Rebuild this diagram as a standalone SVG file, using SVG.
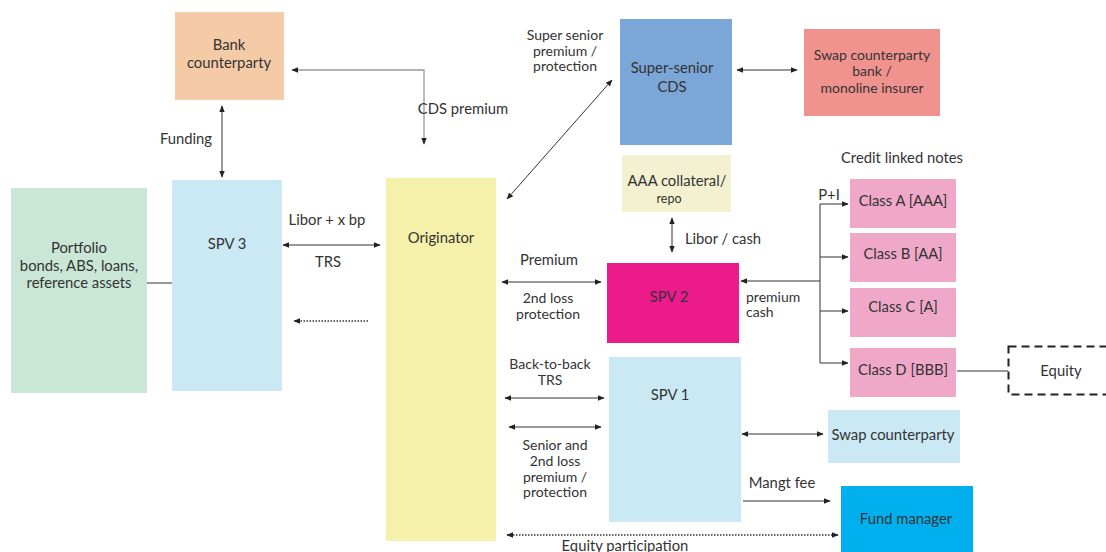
<svg xmlns="http://www.w3.org/2000/svg" width="1106" height="552" viewBox="0 0 1106 552">
<defs>
<marker id="ah" viewBox="0 0 10 10" refX="9" refY="5" markerWidth="7" markerHeight="7" orient="auto-start-reverse" markerUnits="userSpaceOnUse"><path d="M0,1 L10,5 L0,9 Z" fill="#222"/></marker>
<style>
text{font-family:Lato,"Open Sans","Liberation Sans",sans-serif;font-size:14.8px;fill:#333;text-anchor:middle}
text.s{font-size:14px}
.c{stroke:#333;stroke-width:1;fill:none}
.g{stroke:#999;stroke-width:1.3;fill:none}
.d{stroke:#333;stroke-width:1.5;fill:none;stroke-dasharray:1.5 1.5}
.l{text-anchor:start}
</style>
</defs>
<rect width="1106" height="552" fill="#fff"/>
<g id="bank"><rect x="175" y="12" width="109" height="88" fill="#f5cba7"/><text x="229" y="50">Bank</text><text x="229" y="68">counterparty</text></g>
<g id="spv3"><rect x="172" y="180" width="110" height="211" fill="#cae9f4"/><text x="227" y="249">SPV 3</text></g>
<g id="portfolio"><rect x="11" y="188" width="136" height="205" fill="#c9e6d6"/><text x="79" y="253">Portfolio</text><text x="79" y="271">bonds, ABS, loans,</text><text x="79" y="288">reference assets</text></g>
<g id="originator"><rect x="386" y="178" width="110" height="363" fill="#f5f0aa"/><text x="441" y="243">Originator</text></g>
<g id="supercds"><rect x="620" y="19" width="112" height="126" fill="#7ba6d8"/><text x="672" y="73">Super-senior</text><text x="672" y="92">CDS</text></g>
<g id="swapbank"><rect x="804" y="29" width="136" height="87" fill="#f0938f"/><text class="s" x="872" y="60">Swap counterparty</text><text class="s" x="872" y="76">bank /</text><text class="s" x="872" y="93">monoline insurer</text></g>
<g id="aaa"><rect x="622" y="155" width="109" height="57" fill="#f3f1d0"/><text x="677" y="186">AAA collateral/</text><text x="669" y="203" style="font-size:12.5px">repo</text></g>
<g id="spv2"><rect x="607" y="263" width="132" height="80" fill="#ec1b8c"/><text x="669" y="302">SPV 2</text></g>
<g id="classA"><rect x="850" y="179" width="106" height="49" fill="#f0a8c8"/><text x="903" y="206">Class A [AAA]</text></g>
<g id="classB"><rect x="850" y="233" width="106" height="49" fill="#f0a8c8"/><text x="903" y="259">Class B [AA]</text></g>
<g id="classC"><rect x="850" y="288" width="106" height="49" fill="#f0a8c8"/><text x="903" y="312">Class C [A]</text></g>
<g id="classD"><rect x="850" y="348" width="106" height="49" fill="#f0a8c8"/><text x="903" y="375">Class D [BBB]</text></g>
<g id="equity"><rect x="1008.5" y="346.5" width="105" height="48" fill="none" stroke="#222" stroke-width="2" stroke-dasharray="8 5"/><text x="1061" y="376">Equity</text></g>
<g id="spv1"><rect x="609" y="357" width="132" height="165" fill="#cae9f4"/><text x="670" y="400">SPV 1</text></g>
<g id="swapcp"><rect x="828" y="410" width="132" height="53" fill="#cae9f4"/><text x="893" y="440">Swap counterparty</text></g>
<g id="fundmgr"><rect x="841" y="486" width="132" height="70" fill="#00b0ee"/><text x="906" y="524">Fund manager</text></g>
<g id="connectors">
<polyline class="g" points="424,144 424,70 292,70" marker-start="url(#ah)" marker-end="url(#ah)"/>
<line class="c" x1="222" y1="106" x2="222" y2="177" marker-start="url(#ah)" marker-end="url(#ah)"/>
<line class="c" x1="147" y1="283" x2="172" y2="283"/>
<line class="c" x1="283" y1="245" x2="380" y2="245" marker-start="url(#ah)" marker-end="url(#ah)"/>
<line class="d" x1="368" y1="321" x2="294" y2="321" marker-end="url(#ah)"/>
<line class="c" x1="507" y1="199" x2="612" y2="80" marker-start="url(#ah)" marker-end="url(#ah)"/>
<line class="c" x1="737" y1="70" x2="797" y2="70" marker-start="url(#ah)" marker-end="url(#ah)"/>
<line class="c" x1="672" y1="218" x2="672" y2="252" marker-start="url(#ah)" marker-end="url(#ah)"/>
<line class="c" x1="502" y1="282" x2="601" y2="282" marker-start="url(#ah)" marker-end="url(#ah)"/>
<line class="c" x1="820" y1="281" x2="741" y2="281" marker-end="url(#ah)"/>
<line class="c" x1="820" y1="204" x2="820" y2="363"/>
<line class="c" x1="820" y1="204" x2="848" y2="204" marker-end="url(#ah)"/>
<line class="c" x1="820" y1="257" x2="848" y2="257" marker-end="url(#ah)"/>
<line class="c" x1="820" y1="311" x2="848" y2="311" marker-end="url(#ah)"/>
<line class="c" x1="820" y1="363" x2="848" y2="363" marker-end="url(#ah)"/>
<line class="c" x1="957" y1="371" x2="1008" y2="371"/>
<line class="c" x1="505" y1="398" x2="604" y2="398" marker-start="url(#ah)" marker-end="url(#ah)"/>
<line class="c" x1="509" y1="427" x2="601" y2="427" marker-start="url(#ah)" marker-end="url(#ah)"/>
<line class="c" x1="742" y1="434" x2="823" y2="434" marker-start="url(#ah)" marker-end="url(#ah)"/>
<line class="c" x1="743" y1="501" x2="830" y2="501" marker-end="url(#ah)"/>
<line class="d" x1="507" y1="535" x2="838" y2="535" marker-start="url(#ah)" marker-end="url(#ah)"/>
</g>
<g id="labels">
<text x="186" y="144">Funding</text>
<text x="463" y="114">CDS premium</text>
<text class="s" x="565" y="40">Super senior</text>
<text class="s" x="565" y="56">premium /</text>
<text class="s" x="565" y="71">protection</text>
<text x="327" y="225">Libor + x bp</text>
<text x="328" y="267">TRS</text>
<text x="723" y="244">Libor / cash</text>
<text x="549" y="265">Premium</text>
<text class="s" x="548" y="303">2nd loss</text>
<text class="s" x="548" y="319">protection</text>
<text class="l s" x="746" y="302">premium</text>
<text class="l s" x="746" y="317">cash</text>
<text x="902" y="163">Credit linked notes</text>
<text x="829" y="200">P+I</text>
<text class="s" x="550" y="369">Back-to-back</text>
<text class="s" x="550" y="385">TRS</text>
<text class="s" x="555" y="450">Senior and</text>
<text class="s" x="555" y="466">2nd loss</text>
<text class="s" x="555" y="482">premium /</text>
<text class="s" x="555" y="497">protection</text>
<text x="782" y="488">Mangt fee</text>
<text x="625" y="551">Equity participation</text>
</g>
</svg>
